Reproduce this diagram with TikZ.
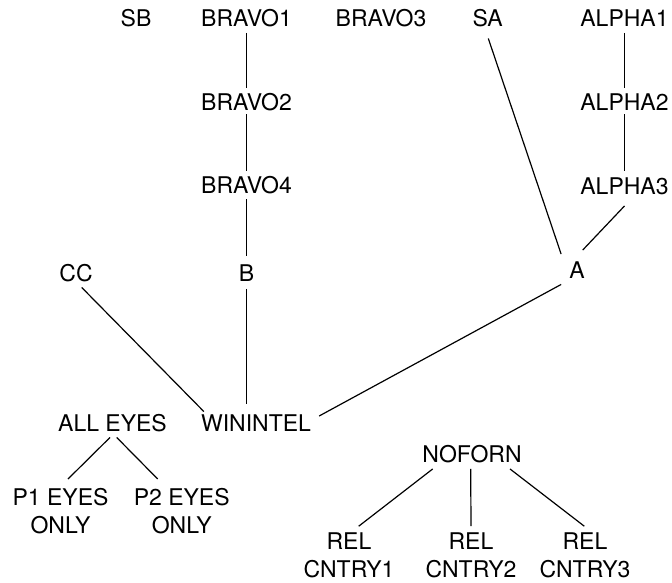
\documentclass[tikz,border=0pt]{standalone}
\usepackage{fontspec}
\setmainfont{TeX Gyre Heros}
\begin{document}
\begin{tikzpicture}[x=1pt,y=-1pt,
  lbl/.style={font=\fontsize{23}{28}\selectfont, inner xsep=8pt, inner ysep=6pt,
              text height=16.5pt, text depth=0pt},
  lbl2/.style={font=\fontsize{23}{28}\selectfont, inner xsep=4pt, inner ysep=1pt, align=center},
  edge/.style={line width=1.2pt, black}]
\useasboundingbox (0,0) rectangle (672,582);
% top row
\node[lbl] (sb) at (136,18.5) {SB};
\node[lbl] (bravo1) at (246.5,18.5) {BRAVO1};
\node[lbl] (bravo3) at (381,18.5) {BRAVO3};
\node[lbl] (sa) at (487.7,18.5) {SA};
\node[lbl] (alpha1) at (624.5,18.5) {ALPHA1};
% second and third rows
\node[lbl] (bravo2) at (246.5,102) {BRAVO2};
\node[lbl] (alpha2) at (624.5,102) {ALPHA2};
\node[lbl] (bravo4) at (246.5,185) {BRAVO4};
\node[lbl] (alpha3) at (624.5,186) {ALPHA3};
% fourth row
\node[lbl] (cc) at (76,273) {CC};
\node[lbl] (b) at (246.5,273) {B};
\node[lbl] (a) at (577,270) {A};
% lower part
\node[lbl] (alleyes) at (112.5,423) {ALL EYES};
\node[lbl] (winintel) at (256,423) {WININTEL};
\node[lbl] (noforn) at (472,454.5) {NOFORN};
\node[lbl2] (p1) at (60.5,511) {P1 EYES\\ONLY};
\node[lbl2] (p2) at (181.7,511) {P2 EYES\\ONLY};
\node[lbl2] (rel1) at (349,555) {REL\\CNTRY1};
\node[lbl2] (rel2) at (471,555) {REL\\CNTRY2};
\node[lbl2] (rel3) at (585,555) {REL\\CNTRY3};
% connectors
\draw[edge] (bravo1.south) -- (bravo2.north);
\draw[edge] ([yshift=2pt]bravo2.south) -- (bravo4.north);
\draw[edge] (bravo4.south) -- ([yshift=3pt]b.north -| bravo4.south);
\draw[edge] ([yshift=-1.5pt]b.south) -- ([yshift=4.5pt]winintel.north -| b.south);
\draw[edge] ([xshift=5.7pt]cc.south) -- ([xshift=11pt,yshift=-3pt]winintel.north west);
\draw[edge] (a.south west) -- ([yshift=7pt]winintel.east);
\draw[edge] ([xshift=0.6pt,yshift=-5.5pt]sa.south) -- ([yshift=1.5pt]a.north west);
\draw[edge] (alpha1.south) -- (alpha2.north);
\draw[edge] ([yshift=2pt]alpha2.south) -- ([yshift=1pt]alpha3.north);
\draw[edge] ([yshift=-5.5pt]alpha3.south) -- ([xshift=5.7pt,yshift=5.5pt]a.north);
\draw[edge] ([xshift=-2.5pt]alleyes.south) -- ([xshift=7.5pt,yshift=8pt]p1.north);
\draw[edge] ([xshift=4.2pt]alleyes.south) -- ([xshift=-24pt,yshift=8pt]p2.north);
\draw[edge] ([xshift=-39.3pt]noforn.south) -- ([xshift=9.7pt,yshift=5pt]rel1.north);
\draw[edge] ([xshift=-1.3pt]noforn.south) -- ([yshift=5pt]rel2.north);
\draw[edge] ([xshift=38pt]noforn.south) -- ([xshift=-0.7pt,yshift=5pt]rel3.north);
\end{tikzpicture}
\end{document}
